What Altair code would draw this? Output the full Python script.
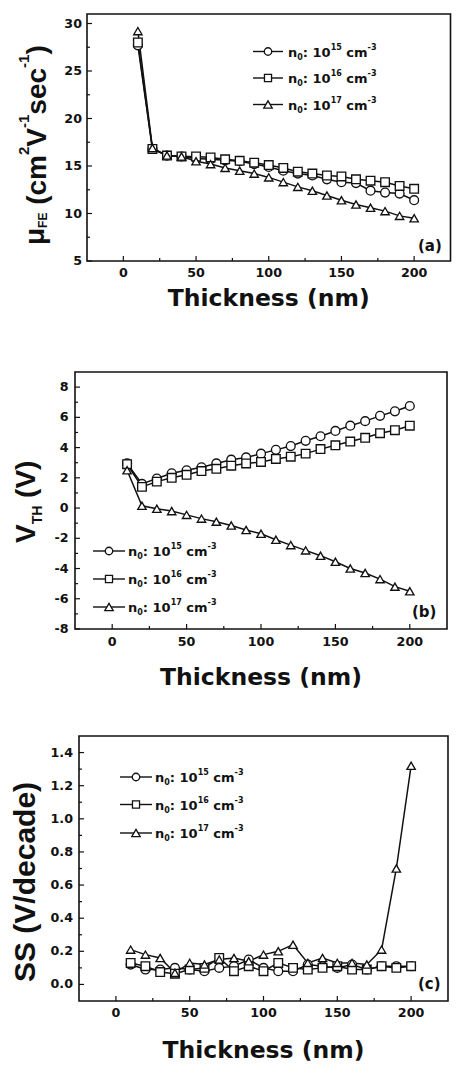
import altair as alt
import pandas as pd

# ---------------------------------------------------------------- data
thickness = [10, 20, 30, 40, 50, 60, 70, 80, 90, 100,
             110, 120, 130, 140, 150, 160, 170, 180, 190, 200]

series_keys = ["n15", "n16", "n17"]
series_exp = ["15", "16", "17"]
series_shapes = ["circle", "square", "triangle-up"]

# field-effect mobility (cm^2 V^-1 s^-1)
mu_n15 = [27.7, 16.8, 16.1, 16.0, 15.8, 15.7, 15.6, 15.5, 15.2, 14.9,
          14.5, 14.2, 14.0, 13.6, 13.3, 13.2, 12.4, 12.2, 12.1, 11.4]
mu_n16 = [28.0, 16.8, 16.1, 16.0, 16.0, 15.9, 15.7, 15.55, 15.35, 15.1,
          14.8, 14.4, 14.2, 14.0, 13.9, 13.6, 13.45, 13.3, 12.9, 12.6]
mu_n17 = [29.2, 16.9, 16.1, 16.0, 15.5, 15.2, 14.8, 14.5, 14.2, 13.8,
          13.3, 12.8, 12.4, 11.9, 11.4, 10.95, 10.6, 10.25, 9.75, 9.5]

# threshold voltage (V)
vth_n15 = [2.95, 1.6, 1.95, 2.3, 2.5, 2.7, 2.95, 3.2, 3.35, 3.6,
           3.85, 4.1, 4.45, 4.75, 5.1, 5.45, 5.75, 6.1, 6.4, 6.75]
vth_n16 = [2.9, 1.4, 1.75, 2.0, 2.2, 2.45, 2.6, 2.8, 2.95, 3.05,
           3.25, 3.4, 3.6, 3.9, 4.15, 4.4, 4.65, 4.95, 5.15, 5.45]
vth_n17 = [2.5, 0.15, -0.05, -0.2, -0.45, -0.7, -0.9, -1.15, -1.45, -1.7,
           -2.1, -2.45, -2.8, -3.15, -3.55, -4.0, -4.3, -4.7, -5.2, -5.5]

# subthreshold swing (V/decade)
ss_n15 = [0.12, 0.09, 0.09, 0.10, 0.09, 0.08, 0.10, 0.11, 0.15, 0.10,
          0.08, 0.08, 0.12, 0.11, 0.10, 0.12, 0.09, 0.11, 0.11, 0.11]
ss_n16 = [0.13, 0.11, 0.075, 0.065, 0.09, 0.10, 0.16, 0.08, 0.11, 0.08,
          0.13, 0.10, 0.09, 0.10, 0.11, 0.09, 0.09, 0.11, 0.10, 0.11]
ss_n17 = [0.21, 0.18, 0.16, 0.07, 0.13, 0.12, 0.15, 0.16, 0.14, 0.18,
          0.20, 0.24, 0.13, 0.16, 0.13, 0.13, 0.12, 0.21, 0.70, 1.32]

x_domain = [-25, 225]
x_major = [0, 50, 100, 150, 200]
x_minor = [25, 75, 125, 175]

mu_domain = [5, 31]
mu_major = [5, 10, 15, 20, 25, 30]
mu_minor = [7.5, 12.5, 17.5, 22.5, 27.5]

vth_domain = [-8, 9]
vth_major = [-8, -6, -4, -2, 0, 2, 4, 6, 8]
vth_minor = [-7, -5, -3, -1, 1, 3, 5, 7]

ss_domain = [-0.1, 1.5]
ss_major = [0.0, 0.2, 0.4, 0.6, 0.8, 1.0, 1.2, 1.4]
ss_minor = [0.1, 0.3, 0.5, 0.7, 0.9, 1.1, 1.3]

# ---------------------------------------------------------------- style
INK = "#111111"
DV = "DejaVu Sans"
LS = "Liberation Sans"
ONE = pd.DataFrame({"k": [0]})

# approximate advance widths (em) used to set rich text piece by piece
DV_W = {" ": .348, "(": .457, ")": .457, "-": .416, ".": .381, "/": .365,
        ":": .400, "n": .712, "c": .593, "m": 1.042, "0": .696, "1": .696,
        "3": .696, "5": .696, "6": .696, "7": .696}
LS_W = {"μ": .611, "F": .611, "E": .667, " ": .278, "(": .333, ")": .333,
        "c": .556, "m": .889, "2": .556, "V": .667, "-": .333, "1": .556,
        "s": .556, "e": .556, "T": .611, "H": .722}


def label(s, x, y, size, font=DV, angle=0, align="left", baseline="alphabetic"):
    kw = dict(text=s, font=font, fontSize=size, fontWeight="bold",
              align=align, baseline=baseline, color=INK)
    if angle:
        kw["angle"] = angle
    return alt.Chart(ONE).mark_text(**kw).encode(x=alt.value(x), y=alt.value(y))


def rich(pieces, x0, y0, widths, font, vertical=False):
    """pieces: (text, size, baseline shift); blank pieces only advance."""
    out, pos = [], 0.0
    for s, size, shift in pieces:
        w = sum(widths.get(c, .6) for c in s) * size
        if s.strip():
            if vertical:
                out.append(label(s, x0 + shift, y0 - pos, size, font, angle=270))
            else:
                out.append(label(s, x0 + pos, y0 + shift, size, font))
        pos += w
    return out


def long_table(values):
    rows = []
    for key, vals in zip(series_keys, values):
        for t, v in zip(thickness, vals):
            rows.append({"t": t, "v": v, "s": key})
    return pd.DataFrame(rows)


def fmt(v, dec):
    return f"{v:.{dec}f}" if dec else str(int(v))


def panel(values, ydom, ymaj, ymin, dec, box, ylab_right, xlab_y, xtitle_base,
          tag, tag_pos, legend_geo, ytitle):
    L, R, T, B = box
    xs = alt.Scale(domain=x_domain, range=[L, R], nice=False, zero=False)
    ys = alt.Scale(domain=ydom, range=[B, T], nice=False, zero=False)
    X = lambda f: alt.X(f, scale=xs, axis=None)
    Y = lambda f: alt.Y(f, scale=ys, axis=None)

    df = long_table(values)
    lines = alt.Chart(df).mark_line(color=INK, strokeWidth=1.5).encode(
        x=X("t:Q"), y=Y("v:Q"), detail="s:N")
    points = alt.Chart(df).mark_point(
        filled=True, fill="white", stroke=INK, strokeWidth=1.35, opacity=1
    ).encode(
        x=X("t:Q"), y=Y("v:Q"),
        shape=alt.Shape("s:N", scale=alt.Scale(domain=series_keys, range=series_shapes), legend=None),
        size=alt.Size("s:N", scale=alt.Scale(domain=series_keys, range=[78, 70, 100]), legend=None),
    )

    frame = alt.Chart(pd.DataFrame({"x0": [x_domain[0]], "x1": [x_domain[1]],
                                    "y0": [ydom[0]], "y1": [ydom[1]]})).mark_rect(
        fill="white", fillOpacity=0, stroke=INK, strokeWidth=1.6
    ).encode(x=X("x0:Q"), x2="x1:Q", y=Y("y0:Q"), y2="y1:Q")

    xt_major = alt.Chart(pd.DataFrame({"v": x_major})).mark_rule(color=INK, strokeWidth=1.2).encode(
        x=X("v:Q"), y=alt.value(B), y2=alt.value(B - 5))
    xt_minor = alt.Chart(pd.DataFrame({"v": x_minor})).mark_rule(color=INK, strokeWidth=1.2).encode(
        x=X("v:Q"), y=alt.value(B), y2=alt.value(B - 3))
    yt_major = alt.Chart(pd.DataFrame({"v": ymaj})).mark_rule(color=INK, strokeWidth=1.2).encode(
        y=Y("v:Q"), x=alt.value(L), x2=alt.value(L + 5))
    yt_minor = alt.Chart(pd.DataFrame({"v": ymin})).mark_rule(color=INK, strokeWidth=1.2).encode(
        y=Y("v:Q"), x=alt.value(L), x2=alt.value(L + 3))

    xl = alt.Chart(pd.DataFrame({"v": x_major, "lab": [fmt(v, 0) for v in x_major]})).mark_text(
        font=DV, fontSize=12.7, fontWeight="bold", color=INK, align="center", baseline="middle"
    ).encode(x=X("v:Q"), y=alt.value(xlab_y), text="lab:N")
    yl = alt.Chart(pd.DataFrame({"v": ymaj, "lab": [fmt(v, dec) for v in ymaj]})).mark_text(
        font=DV, fontSize=12.7, fontWeight="bold", color=INK, align="right", baseline="middle"
    ).encode(y=Y("v:Q"), x=alt.value(ylab_right), text="lab:N")

    xtitle = label("Thickness (nm)", (L + R) / 2, xtitle_base, 23.5, DV, align="center")
    tag_mark = label(tag, tag_pos[0], tag_pos[1], 15, DV)

    # legend: line + open marker + "n0: 10^x cm^-3"
    lx0, lx1, mx, tx, rows = legend_geo
    leg = []
    for shape, exp, ry in zip(series_shapes, series_exp, rows):
        leg.append(alt.Chart(ONE).mark_rule(color=INK, strokeWidth=1.4).encode(
            x=alt.value(lx0), x2=alt.value(lx1), y=alt.value(ry)))
        leg.append(alt.Chart(ONE).mark_point(
            shape=shape, size={"circle": 56, "square": 50, "triangle-up": 72}[shape],
            filled=True, fill="white", stroke=INK, strokeWidth=1.3, opacity=1
        ).encode(x=alt.value(mx), y=alt.value(ry)))
        leg += rich([("n", 13, 0), ("0", 8, 3), (": 10", 13, 0), (exp, 8, -6.7),
                     (" ", 13, 0), ("cm", 13, 0), ("-3", 8, -6.7)],
                    tx, ry + 5, DV_W, DV)

    ylabel_layers = rich(ytitle[0], ytitle[1], ytitle[2], LS_W, LS, vertical=True)

    return alt.layer(lines, points, xt_major, xt_minor, yt_major, yt_minor, frame,
                     xl, yl, xtitle, tag_mark, *leg, *ylabel_layers)


panel_a = panel(
    [mu_n15, mu_n16, mu_n17], mu_domain, mu_major, mu_minor, 0,
    (87, 450.5, 14, 261), 82, 273.3, 306, "(a)", (418, 250.5),
    (253, 283, 268, 288, [51.5, 78, 104.5]),
    ([("μ", 28, -2), ("FE", 12, 1), (" ", 28, 0), ("(cm", 28, 0), ("2", 15, -17),
      ("V", 28, 0), ("-1", 15, -17), ("sec", 28, 0), ("-1", 15, -17), (")", 28, 0)],
     46, 245),
)

panel_b = panel(
    [vth_n15, vth_n16, vth_n17], vth_domain, vth_major, vth_minor, 0,
    (75, 447, 372, 629), 68.5, 641.7, 685, "(b)", (412, 617),
    (93, 125, 109, 128, [551, 579, 607]),
    ([("V", 28, 0), ("TH", 14, 7), (" ", 28, 0), ("(V)", 28, 0)], 35, 543),
)

panel_c = panel(
    [ss_n15, ss_n16, ss_n17], ss_domain, ss_major, ss_minor, 1,
    (79, 448, 736, 1001), 73, 1012.7, 1058, "(c)", (418, 988.5),
    (120, 152, 136, 155, [777, 804.5, 833]),
    ([("SS (V/decade)", 30, 0)], 35, 982),
)

chart = (
    alt.layer(panel_a, panel_b, panel_c)
    .resolve_scale(x="independent", y="independent")
    .properties(width=457, height=1075, padding=0,
                autosize=alt.AutoSizeParams(type="none"))
    .configure(background="white")
    .configure_view(stroke="transparent")
)

chart.save("out.html", embed_options={"renderer": "svg", "actions": False})
